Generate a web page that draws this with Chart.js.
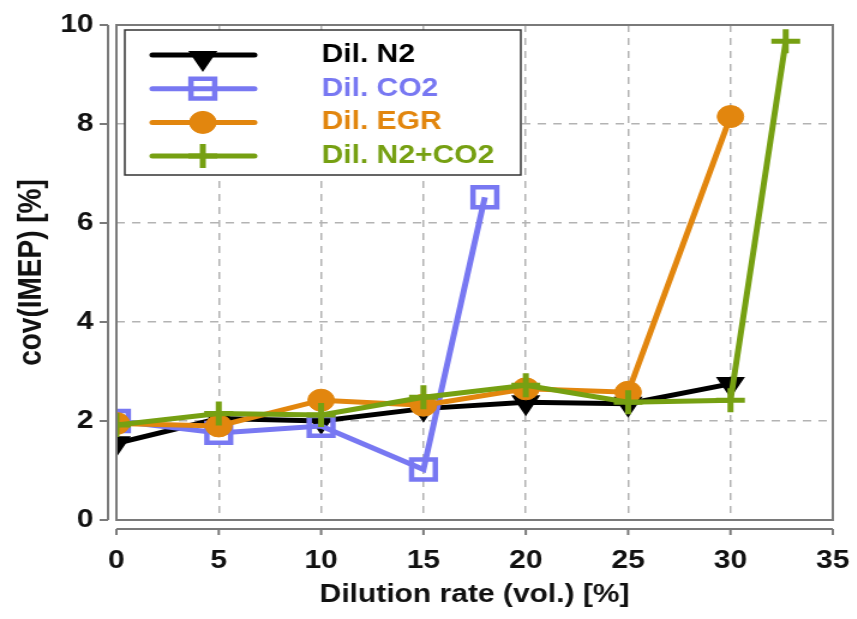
<!DOCTYPE html>
<html>
<head>
<meta charset="utf-8">
<script src="https://cdn.jsdelivr.net/npm/chart.js@4.4.1/dist/chart.umd.min.js"></script>
<style>
  html, body { margin: 0; padding: 0; background: #fff; overflow: hidden; }
  /* the source figure is stretched sideways, so draw narrow and widen */
  #wrap { width: 714px; height: 619px; transform: scaleX(1.2); transform-origin: 0 0; }
</style>
</head>
<body>
<div id="wrap"><canvas id="covChart"></canvas></div>
<script>
// values
const xTicks = [0, 5, 10, 15, 20, 25, 30, 35];
const yTicks = [0, 2, 4, 6, 8, 10];

const labels = ["Dil. N2", "Dil. CO2", "Dil. EGR", "Dil. N2+CO2"];

const xN2 = [0, 5, 10, 15, 20, 25, 30];
const yN2 = [1.55, 2.05, 2.0, 2.25, 2.38, 2.35, 2.75];

const xCO2 = [0, 5, 10, 15, 18];
const yCO2 = [2.0, 1.76, 1.9, 1.02, 6.52];

const xEGR = [0, 5, 10, 15, 20, 25, 30];
const yEGR = [1.95, 1.9, 2.42, 2.32, 2.65, 2.58, 8.15];

const xMix = [0, 5, 10, 15, 20, 25, 30, 32.7];
const yMix = [1.92, 2.15, 2.12, 2.48, 2.72, 2.38, 2.42, 9.67];

const FONT = "'Liberation Sans', Arial, sans-serif";

function pts(xs, ys) {
  return xs.map((x, i) => ({ x: x, y: ys[i] }));
}

const datasets = [
  {
    label: labels[0],
    data: pts(xN2, yN2),
    borderColor: "#000000",
    backgroundColor: "#000000",
    pointStyle: "triangle",
    rotation: 180,
    pointRadius: 12,
    pointBorderWidth: 2,
    order: 3
  },
  {
    label: labels[1],
    data: pts(xCO2, yCO2),
    borderColor: "#7878f2",
    backgroundColor: "rgba(0,0,0,0)",
    pointStyle: "rect",
    pointRadius: 14,
    pointBorderWidth: 4.5,
    order: 2
  },
  {
    label: labels[2],
    data: pts(xEGR, yEGR),
    borderColor: "#e2860e",
    backgroundColor: "#e2860e",
    pointStyle: "circle",
    pointRadius: 11,
    pointBorderWidth: 1,
    order: 1
  },
  {
    label: labels[3],
    data: pts(xMix, yMix),
    borderColor: "#76a012",
    backgroundColor: "#76a012",
    pointStyle: "cross",
    pointRadius: 12,
    pointBorderWidth: 5,
    order: 0
  }
];

datasets.forEach(ds => {
  ds.showLine = true;
  ds.borderWidth = 5;
  ds.pointBackgroundColor = ds.backgroundColor;
  ds.pointBorderColor = ds.borderColor;
  ds.clip = 0;
});

// dashed grid, no lines on the frame edges
function gridColor(c) {
  const s = c.scale;
  if (c.tick && (c.tick.value === s.min || c.tick.value === s.max)) return "rgba(0,0,0,0)";
  return "#b3b3b3";
}

// plot frame plus the detached axis lines
const frameAxes = {
  id: "frameAxes",
  afterDraw(chart) {
    const ctx = chart.ctx;
    const a = chart.chartArea;
    const xs = chart.scales.x;
    const ys = chart.scales.y;
    ctx.save();
    ctx.strokeStyle = "#7a7a7a";
    ctx.lineWidth = 2;
    ctx.strokeRect(a.left, a.top, a.right - a.left, a.bottom - a.top);

    const ax = a.left - 7;
    ctx.beginPath();
    ctx.moveTo(ax, ys.getPixelForValue(10));
    ctx.lineTo(ax, ys.getPixelForValue(0));
    yTicks.forEach(v => {
      const py = ys.getPixelForValue(v);
      ctx.moveTo(ax, py);
      ctx.lineTo(ax - 7, py);
    });
    const ay = a.bottom + 9;
    ctx.moveTo(xs.getPixelForValue(0), ay);
    ctx.lineTo(xs.getPixelForValue(35), ay);
    xTicks.forEach(v => {
      const px = xs.getPixelForValue(v);
      ctx.moveTo(px, ay);
      ctx.lineTo(px, ay + 6);
    });
    ctx.stroke();
    ctx.restore();
  }
};

// legend box sitting inside the plot, top left
const legendBox = {
  id: "legendBox",
  afterDraw(chart) {
    const ctx = chart.ctx;
    const box = { left: 104, top: 30, width: 330, height: 145 };
    ctx.save();
    ctx.fillStyle = "#ffffff";
    ctx.fillRect(box.left, box.top, box.width, box.height);
    ctx.strokeStyle = "#333333";
    ctx.lineWidth = 1.5;
    ctx.strokeRect(box.left, box.top, box.width, box.height);

    chart.data.datasets.forEach((ds, i) => {
      const y = 55 + i * 33.7;
      ctx.strokeStyle = ds.borderColor;
      ctx.fillStyle = ds.backgroundColor;
      ctx.lineWidth = 5;
      ctx.lineCap = "round";
      ctx.beginPath();
      ctx.moveTo(127, y);
      ctx.lineTo(212, y);
      ctx.stroke();
      ctx.lineCap = "butt";
      ctx.lineWidth = ds.pointBorderWidth;
      Chart.helpers.drawPoint(ctx, {
        pointStyle: ds.pointStyle,
        rotation: ds.rotation || 0,
        radius: ds.pointRadius,
        borderWidth: ds.pointBorderWidth
      }, 169, ds.pointStyle === "triangle" ? y + 3 : y);
      ctx.fillStyle = ds.borderColor;
      ctx.font = "bold 25px " + FONT;
      ctx.textAlign = "left";
      ctx.textBaseline = "middle";
      ctx.fillText(ds.label, 268, y);
    });
    ctx.restore();
  }
};

new Chart(document.getElementById("covChart"), {
  type: "scatter",
  data: { datasets: datasets },
  plugins: [frameAxes, legendBox],
  options: {
    responsive: true,
    maintainAspectRatio: false,
    animation: false,
    layout: { padding: { top: 25, right: 20, left: 0, bottom: 0 } },
    plugins: {
      legend: { display: false },
      tooltip: { enabled: false }
    },
    scales: {
      x: {
        type: "linear",
        min: 0,
        max: 35,
        afterBuildTicks: s => { s.ticks = xTicks.map(v => ({ value: v })); },
        afterFit: s => { s.height = 99; },
        grid: { color: gridColor, lineWidth: 1.5, drawTicks: true, tickLength: 26, tickColor: "rgba(0,0,0,0)" },
        border: { display: false, dash: [7, 6] },
        ticks: {
          color: "#111",
          padding: 0,
          maxRotation: 0,
          font: { family: FONT, size: 25, weight: "bold" }
        },
        title: {
          display: true,
          text: "Dilution rate (vol.) [%]",
          color: "#111",
          padding: { top: 0, bottom: 9 },
          font: { family: FONT, size: 25, weight: "bold" }
        }
      },
      y: {
        type: "linear",
        min: 0,
        max: 10,
        afterBuildTicks: s => { s.ticks = yTicks.map(v => ({ value: v })); },
        afterFit: s => { s.width = 97; },
        grid: { color: gridColor, lineWidth: 1.5, drawTicks: true, tickLength: 19, tickColor: "rgba(0,0,0,0)" },
        border: { display: false, dash: [7, 6] },
        ticks: {
          color: "#111",
          padding: 0,
          font: { family: FONT, size: 25, weight: "bold" }
        },
        title: {
          display: true,
          text: "cov(IMEP) [%]",
          color: "#111",
          padding: { top: 9, bottom: 0 },
          font: { family: FONT, size: 28, weight: "bold" }
        }
      }
    }
  }
});
</script>
</body>
</html>
